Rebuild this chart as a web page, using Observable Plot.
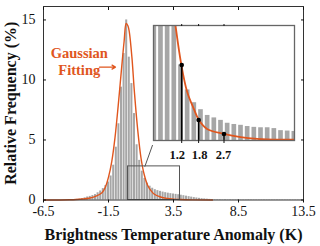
<!DOCTYPE html>
<html>
<head>
<meta charset="utf-8">
<script src="https://cdn.jsdelivr.net/npm/d3@7"></script>
<script src="https://cdn.jsdelivr.net/npm/@observablehq/plot@0.6"></script>
<style>
  html, body { margin: 0; padding: 0; background: #fff; }
  #wrap { position: relative; width: 320px; height: 246px; overflow: hidden; }
  #inset { position: absolute; left: 151px; top: 21px; }
  svg { overflow: visible; }
  svg, svg text { font-family: 'Liberation Serif', serif !important; }
</style>
</head>
<body>
<div id="wrap"><div id="main"></div><div id="inset"></div></div>
<script>
// ---------- data ----------
const binStart = -4.6;   // first histogram bin (K)
const binWidth = 0.2;    // histogram bin width (K)
const freq = [
  0.01, 0.02, 0.03, 0.05, 0.08, 0.12, 0.18, 0.25, 0.30, 0.37,
  0.45, 0.60, 0.75, 0.95, 1.20, 1.50, 2.00, 2.90, 4.40, 6.35,
  9.40, 12.2, 15.0, 11.9, 9.70, 7.20, 4.60, 3.30, 2.40, 1.80,
  1.40, 1.15, 0.98, 0.86, 0.78, 0.72, 0.66, 0.61, 0.57, 0.53,
  0.50, 0.47, 0.44, 0.40, 0.36, 0.32, 0.28, 0.24, 0.20, 0.17,
  0.14, 0.11, 0.09, 0.07, 0.05, 0.04, 0.04, 0.04, 0.04, 0.03,
  0.04, 0.03, 0.04, 0.03, 0.03, 0.04, 0.03, 0.03, 0.03, 0.04,
  0.03, 0.03, 0.03, 0.03, 0.03, 0.03, 0.03, 0.03, 0.03, 0.03,
  0.03, 0.03, 0.03, 0.03, 0.03, 0.03, 0.03, 0.03, 0.03, 0.03
];
const fitX = [-6.5, -5.5, -4.5, -4, -3.5, -3, -2.5, -2, -1.75, -1.5, -1.25, -1, -0.75, -0.5, -0.3, -0.14, 0, 0.1, 0.3, 0.5, 0.75, 1, 1.25, 1.5, 1.75, 2, 2.5, 3, 3.5, 4, 5, 6.5];
const fitY = [0, 0.005, 0.02, 0.04, 0.08, 0.15, 0.3, 0.6, 1.05, 1.9, 3.2, 5.2, 7.9, 10.9, 13.2, 14.7, 14.5, 14.0, 11.9, 8.9, 5.8, 3.5, 2.1, 1.25, 0.8, 0.5, 0.25, 0.13, 0.07, 0.04, 0.01, 0];
const xTicks = [-6.5, -1.5, 3.5, 8.5, 13.5];
const yTicks = [0, 5, 10, 15];
const zoomX = [0, 4];
const zoomY = [0, 2.8];
const connectorX = [1.3, 1.88];
const connectorY = [2.8, 4.55];
const labelPos = {x: -3.75, y: 11.55};
const arrowX = [-2.19, -0.96];
const arrowY = [11.07, 11.07];

// inset (zoomed view)
const insetBinStart = 0.11;
const insetBinWidth = 0.2365;
const insetFreq = [3.5, 3.5, 3.5, 3.5, 1.84, 1.23, 0.92, 0.75, 0.61, 0.55, 0.49, 0.42, 0.39, 0.37, 0.34, 0.32, 0.31, 0.31, 0.29, 0.24, 0.23, 0.22];
const insetFitX = [0.8, 0.98, 1.18, 1.395, 1.63, 1.81, 2.10, 2.69, 3.29, 3.88, 4.70, 5.2];
const insetFitY = [3.8, 2.8, 1.87, 1.18, 0.77, 0.50, 0.28, 0.16, 0.08, 0.04, 0.02, 0.02];
const markX = [1.2, 1.8, 2.7];
const markY = [1.84, 0.50, 0.16];
const markLabels = ["1.2", "1.8", "2.7"];

// ---------- drawing ----------
const serif = "Liberation Serif";
const orange = "#E0561E";
const barFill = "#a6a6a6";
const bins = freq.map((v, i) => ({x1: binStart + i * binWidth, x2: binStart + (i + 1) * binWidth, y: v}));
const fit = fitX.map((x, i) => ({x, y: fitY[i]}));
const blank = () => "";
const labelNudge = [-4, 1.5, 0];

function serifize(svg) {
  svg.setAttribute("font-family", "Liberation Serif, serif");
  svg.querySelectorAll("g, text").forEach(el => {
    if (el.hasAttribute("font-family") || el.tagName === "text") el.setAttribute("font-family", "Liberation Serif, serif");
  });
}

const main = Plot.plot({
  width: 320, height: 246,
  marginLeft: 43, marginRight: 17, marginTop: 6, marginBottom: 46.5,
  style: "font-size: 14px; color: #111; background: transparent;",
  x: {domain: [-6.5, 13.5]},
  y: {domain: [0, 16.12]},
  marks: [
    Plot.rectY(bins, {x1: "x1", x2: "x2", y: "y", fill: barFill, insetLeft: 0.3, insetRight: 0.3}),
    Plot.line(fit, {x: "x", y: "y", stroke: orange, strokeWidth: 1.4, curve: "catmull-rom"}),
    Plot.rect([{}], {x1: zoomX[0], x2: zoomX[1], y1: zoomY[0], y2: zoomY[1], fill: "none", stroke: "#555", strokeWidth: 1}),
    Plot.line(connectorX.map((x, i) => ({x, y: connectorY[i]})), {x: "x", y: "y", stroke: "#555", strokeWidth: 1}),
    Plot.text([labelPos], {x: "x", y: "y", text: () => "Gaussian\nFitting", fill: orange, fontWeight: "bold", fontSize: 14.5, lineHeight: 1.12, fontFamily: serif}),
    Plot.arrow([{}], {x1: arrowX[0], x2: arrowX[1], y1: arrowY[0], y2: arrowY[1], stroke: orange, strokeWidth: 1.2, headLength: 5}),
    Plot.frame({stroke: "#333", strokeWidth: 1}),
    Plot.axisX({ticks: xTicks, anchor: "bottom", tickSize: 3, tickPadding: 3, tickFormat: d => String(d),
      label: "Brightness Temperature Anomaly (K)", labelAnchor: "center", labelArrow: "none", labelOffset: 40}),
    Plot.axisX({ticks: xTicks, anchor: "top", tickSize: -3, tickFormat: blank, label: null}),
    Plot.axisY({ticks: yTicks, anchor: "left", tickSize: -3, tickPadding: 11, label: "Relative Frequency (%)", labelAnchor: "center", labelArrow: "none", labelOffset: 39}),
    Plot.axisY({ticks: yTicks, anchor: "right", tickSize: -3, tickFormat: blank, label: null})
  ]
});
document.getElementById("main").appendChild(main);
main.querySelectorAll("[aria-label$='axis label']").forEach(el => {
  el.setAttribute("font-weight", "bold");
  el.setAttribute("font-size", "16");
});
serifize(main);

const insetBins = insetFreq.map((v, i) => ({x1: insetBinStart + i * insetBinWidth, x2: insetBinStart + (i + 1) * insetBinWidth, y: v}));
const insetFit = insetFitX.map((x, i) => ({x, y: insetFitY[i]}));
const marks = markX.map((x, i) => ({x, y: markY[i], label: markLabels[i], nudge: labelNudge[i]}));

const inset = Plot.plot({
  width: 145, height: 143,
  marginLeft: 2, marginRight: 2, marginTop: 4, marginBottom: 24,
  style: "font-size: 13px; color: #111; background: transparent;",
  x: {domain: [0.2, 5.2], axis: null},
  y: {domain: [0, 2.8], axis: null},
  marks: [
    Plot.frame({fill: "white"}),
    Plot.rectY(insetBins, {x1: "x1", x2: "x2", y: "y", fill: barFill, insetLeft: 1, insetRight: 1, clip: true}),
    Plot.line(insetFit, {x: "x", y: "y", stroke: orange, strokeWidth: 1.8, curve: "catmull-rom", clip: true}),
    Plot.ruleX(marks, {x: "x", y1: 0, y2: "y", stroke: "#000", strokeWidth: 1.6}),
    Plot.dot(marks, {x: "x", y: "y", r: 2.3, fill: "#000"}),
    Plot.frame({stroke: "#666", strokeWidth: 1.3}),
    Plot.axisX({ticks: markX, anchor: "bottom", tickSize: 3, tickFormat: blank, label: null}),
    Plot.axisX({ticks: markX, anchor: "top", tickSize: 2, tickFormat: blank, label: null})
  ]
});
document.getElementById("inset").appendChild(inset);
// inset tick labels, nudged apart as in the reference
const sx = inset.scale("x");
d3.select(inset).append("g").selectAll("text").data(marks).join("text")
  .attr("x", d => sx.apply(d.x) + d.nudge)
  .attr("y", 143 - 24 + 19)
  .attr("text-anchor", "middle")
  .attr("font-weight", "bold")
  .attr("font-size", 12.5)
  .attr("fill", "#111")
  .text(d => d.label);
serifize(inset);
</script>
</body>
</html>
